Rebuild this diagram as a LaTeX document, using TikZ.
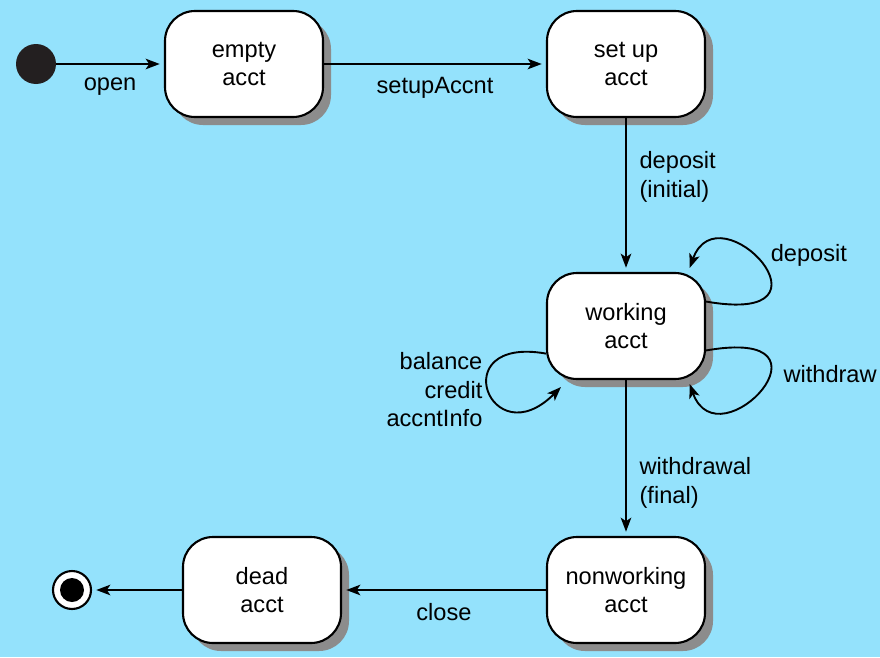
\documentclass[tikz,border=0pt]{standalone}
\usepackage{fontspec}
\setmainfont{Liberation Sans}
\usetikzlibrary{positioning,arrows.meta,shadows}
\definecolor{skyback}{HTML}{94E2FC}
\definecolor{dotblack}{HTML}{231F20}

\begin{document}
\begin{tikzpicture}[shorten >=3pt,node distance=2cm,on grid,auto,
    font=\fontsize{16.8}{20.5}\selectfont,
    >={Stealth[length=10pt,width=7.5pt,inset=2.5pt]},
    every edge/.style={draw,line width=1.35pt},
    acct/.style={draw,line width=1.5pt,fill=white,rounded corners=0.75cm,
      minimum width=3.95cm,minimum height=2.65cm,align=center,
      drop shadow={shadow xshift=0.2cm,shadow yshift=-0.2cm,fill=black!45,opacity=1}},
    initdot/.style={circle,fill=dotblack,minimum size=1cm,inner sep=0pt},
    enddot/.style={circle,draw,line width=1.5pt,fill=white,minimum size=0.95cm,inner sep=0pt,
      path picture={\fill[black] (path picture bounding box.center) circle (0.3cm);}}]
   \fill[skyback] (0,0) rectangle (22,-16.425);
   \useasboundingbox (0,0) rectangle (22,-16.425);
   \node[acct] (empty) at (6.1,-1.6) {empty\\acct};
   \node[initdot] (init) [left=5.2cm of empty] {};
   \node[acct] (setup) [right=9.55cm of empty] {set up\\acct};
   \node[acct] (working) [below=6.55cm of setup] {working\\acct};
   \node[acct] (nonworking) [below=6.6cm of working] {nonworking\\acct};
   \node[acct] (dead) [left=9.1cm of nonworking] {dead\\acct};
   \node[enddot] (final) [left=4.75cm of dead] {};
   \coordinate (worktip) at ([xshift=0.45cm,yshift=-0.1cm]working.south west);
    \path[->,every node/.style={inner sep=9pt}]
    (init) edge node [swap] {open} (empty)
    (empty) edge node [swap] {setupAccnt} (setup)
    (setup) edge node [pos=0.38,align=left] {deposit\\(initial)} (working)
    (working) edge node [pos=0.66,align=left] {withdrawal\\(final)} (nonworking)
    (working.17) edge [out=-10,in=70,out distance=3.6cm,in distance=2.25cm]
          node [anchor=west,pos=0.58,xshift=4pt] {deposit} (working.41)
    (working.-17) edge [out=10,in=-70,out distance=3.6cm,in distance=2.25cm]
          node [anchor=west,pos=0.4] {withdraw} (working.-41)
    (working.-161) edge [out=170,in=-135,out distance=2.6cm,in distance=2.6cm]
          node [anchor=east,pos=0.5,align=right,inner sep=4pt] {balance\\credit\\accntInfo} (worktip)
    (nonworking) edge node {close} (dead)
    (dead) edge (final);
\end{tikzpicture}
\end{document}
